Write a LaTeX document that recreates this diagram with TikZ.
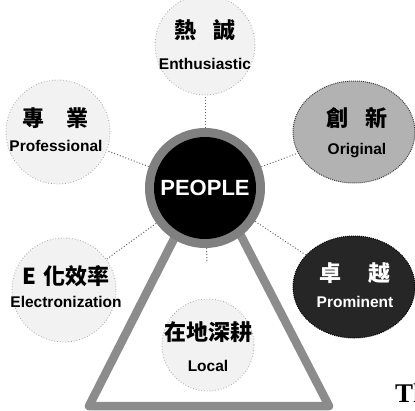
\documentclass[tikz,border=0pt]{standalone}
\usepackage{fontspec}
\setmainfont{Liberation Sans}
\newfontfamily\cjk{Noto Sans CJK TC}
\newfontfamily\serif{Liberation Serif}
\usetikzlibrary{shapes,positioning,calc}

\begin{document}
\begin{tikzpicture}[x=1pt,y=-1pt]

    \tikzstyle{halo}=[circle, fill=black!5, draw=black!35, dotted, line width=0.8pt]
    \tikzstyle{zh}=[font=\cjk\bfseries\fontsize{22}{22}\selectfont, inner sep=0pt]
    \tikzstyle{en}=[font=\bfseries\fontsize{15.5}{15.5}\selectfont, inner sep=0pt]
    \tikzstyle{link}=[dotted, line width=1pt, black!60]
    \tikzstyle{blob}=[ellipse, densely dotted, line width=1pt, minimum width=122pt, minimum height=102pt]

    \useasboundingbox (0,0) rectangle (415,410);

    % faint halos behind the plain labels
    \node (enthusiasticHalo) at (205,45)[halo, minimum size=100pt]{};
    \node (professionalHalo) at (58,132)[halo, minimum size=104pt]{};
    \node (electronizationHalo) at (64,290)[halo, minimum size=104pt]{};
    \node (localHalo) at (208,345)[halo, minimum size=92pt]{};

    % the triangle under the centre
    \coordinate (apex) at (208,172);
    \coordinate (leftFoot) at (89,406);
    \coordinate (rightFoot) at (329,406);
    \draw[line width=8.5pt, black!45, line join=round] (apex) -- (leftFoot) -- (rightFoot) -- cycle;

    \node (peopleRing) at (205,188)[circle, fill=black!50, minimum size=120pt]{};
    \node (people) at (peopleRing)[circle, fill=black, minimum size=102pt, text=white,
      font=\bfseries\fontsize{22}{22}\selectfont]{PEOPLE};

    \node (original) at (354,132)[blob, fill=black!30, draw=black!75]{};
    \node (prominent) at (354,287)[blob, fill=black!85, draw=black]{};

    % labels
    \node (enthusiastic) at (205,30)[zh]{熱\hspace{0.75em}誠};
    \node (enthusiasticEn)[en, below=17pt of enthusiastic]{Enthusiastic};
    \node (professional) at (56,118)[zh]{專\hspace{1em}業};
    \node (professionalEn)[en, below=11pt of professional]{Professional};
    \node (electronization) at (66,276)[zh]{E\hspace{0.3em}化效率};
    \node (electronizationEn)[en, below=9pt of electronization]{Electronization};
    \node (local) at (208,332)[zh]{在地深耕};
    \node (localEn)[en, below=17pt of local]{Local};
    \node (originalZh) at (357,118)[zh]{創\hspace{0.8em}新};
    \node (originalEn)[en, below=14pt of originalZh]{Original};
    \node (prominentZh) at (355,273)[zh, text=white]{卓\hspace{1.2em}越};
    \node (prominentEn)[en, text=white, below=12pt of prominentZh]{Prominent};
    \node (theText) at (395,402)[anchor=base west, inner sep=0pt,
      font=\serif\bfseries\fontsize{27}{27}\selectfont]{Th};

    % dotted links
    \coordinate (localTip) at (207,262);
    \draw[link] (peopleRing) -- (enthusiasticHalo);
    \draw[link] (peopleRing) -- (professionalHalo);
    \draw[link] (peopleRing) -- (electronizationHalo);
    \draw[link] (peopleRing) -- (original);
    \draw[link] (peopleRing) -- (prominent);
    \draw[link] (peopleRing) -- (localTip);

\end{tikzpicture}
\end{document}
